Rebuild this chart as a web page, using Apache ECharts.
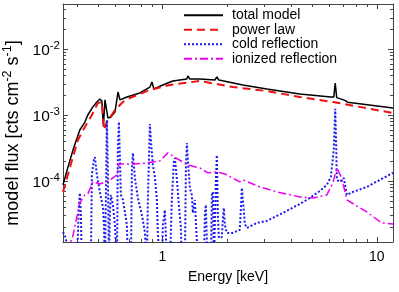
<!DOCTYPE html>
<html><head><meta charset="utf-8">
<script src="https://cdn.jsdelivr.net/npm/echarts@6/dist/echarts.min.js"></script>
<style>html,body{margin:0;padding:0;background:#fff}#c{width:399px;height:292px}</style>
</head><body><div id="c"></div>
<script>
// ---- data (energy in keV, flux in cts cm^-2 s^-1) ----
const totalE = [0.344, 0.363, 0.383, 0.412, 0.435, 0.449, 0.474, 0.495, 0.511, 0.522, 0.531, 0.540, 0.551, 0.557, 0.575, 0.601, 0.621, 0.634, 0.683, 0.785, 0.875, 0.894, 0.913, 1.005, 1.119, 1.30, 1.315, 1.343, 1.495, 1.757, 1.795, 1.834, 2.373, 3.07, 4.375, 6.1, 6.3, 6.4, 6.5, 7.1, 7.3, 11.9];
const totalF = [8.8e-5, 1.65e-4, 2.98e-4, 5.98e-4, 7.9e-4, 1.01e-3, 1.34e-3, 1.59e-3, 1.77e-3, 1.65e-3, 7.1e-4, 1.71e-3, 1.83e-3, 9.1e-4, 9.4e-4, 1.12e-3, 2.25e-3, 1.71e-3, 1.89e-3, 2.18e-3, 2.68e-3, 3.2e-3, 2.5e-3, 2.88e-3, 3.31e-3, 3.55e-3, 3.94e-3, 3.55e-3, 3.55e-3, 3.43e-3, 3.8e-3, 3.43e-3, 2.88e-3, 2.5e-3, 2.1e-3, 1.89e-3, 1.9e-3, 3.08e-3, 1.85e-3, 1.68e-3, 1.58e-3, 1.29e-3];

const powerE = [0.344, 0.371, 0.404, 0.435, 0.469, 0.500, 0.522, 0.534, 0.551, 0.601, 0.654, 0.706, 0.875, 1.084, 1.495, 2.132, 3.07, 4.375, 6.24, 11.9];
const powerF = [6.9e-5, 1.65e-4, 4.23e-4, 6.65e-4, 1.01e-3, 1.53e-3, 1.59e-3, 6.0e-4, 7.9e-4, 1.2e-3, 1.59e-3, 1.83e-3, 2.42e-3, 2.88e-3, 3.31e-3, 2.68e-3, 2.33e-3, 1.89e-3, 1.59e-3, 1.08e-3];

const coldE = [0.344, 0.355, 0.363, 0.399, 0.408, 0.412, 0.417, 0.421, 0.464, 0.469, 0.479, 0.4845, 0.495, 0.511, 0.528, 0.534, 0.5395, 0.545, 0.551, 0.557, 0.563, 0.569, 0.575, 0.588, 0.601, 0.614, 0.620, 0.627, 0.634, 0.6405, 0.6545, 0.6686, 0.6832, 0.6906, 0.7132, 0.7209, 0.7287, 0.7445, 0.7687, 0.8025, 0.8288, 0.8468, 0.8559, 0.8744, 0.8838, 0.903, 0.9226, 0.9427, 0.9528, 0.9734, 0.9947, 1.005, 1.027, 1.038, 1.049, 1.084, 1.107, 1.131, 1.144, 1.169, 1.194, 1.220, 1.233, 1.273, 1.287, 1.301, 1.315, 1.343, 1.372, 1.387, 1.417, 1.433, 1.448, 1.480, 1.561, 1.578, 1.595, 1.612, 1.630, 1.683, 1.701, 1.720, 1.738, 1.776, 1.795, 1.814, 1.834, 1.854, 1.894, 1.914, 1.935, 1.956, 1.998, 2.132, 2.297, 2.348, 2.373, 2.425, 2.477, 2.758, 3.07, 3.646, 4.375, 4.872, 5.424, 5.847, 6.103, 6.3, 6.4, 6.48, 6.51, 6.723, 7.018, 7.1, 7.248, 7.729, 8.982, 10.33, 11.9];
const coldF = [1.70e-5, 1.38e-5, 5e-6, 5e-6, 4.38e-5, 6.65e-5, 3.09e-5, 5e-6, 5e-6, 1.25e-4, 2.10e-4, 2.33e-4, 1.25e-4, 6.88e-5, 4.08e-5, 2.18e-5, 5e-6, 5.21e-5, 8.49e-4, 1.48e-4, 5e-6, 3.09e-5, 6.2e-5, 4.38e-5, 2.18e-5, 5e-6, 2.98e-4, 7.92e-4, 2.10e-4, 6.2e-5, 5.21e-5, 3.43e-5, 2.18e-5, 5e-6, 5e-6, 1.48e-4, 2.68e-4, 1.12e-4, 5.58e-5, 3.09e-5, 1.70e-5, 5e-6, 5.21e-5, 7.38e-4, 4.22e-4, 1.77e-4, 1.16e-4, 5.21e-5, 1.65e-5, 5e-6, 5e-6, 2.18e-5, 3.67e-5, 1.54e-5, 5e-6, 5e-6, 5.21e-5, 1.96e-4, 2.25e-4, 1.05e-4, 4.38e-5, 1.96e-5, 5e-6, 5e-6, 1.48e-4, 3.80e-4, 2.10e-4, 7.92e-5, 6.2e-5, 3.31e-5, 5.21e-5, 2.42e-5, 1.29e-5, 5e-6, 5e-6, 3.09e-5, 4.38e-5, 1.29e-5, 5e-6, 5e-6, 6.2e-5, 6.88e-5, 5e-6, 1.05e-4, 2.50e-4, 3.09e-5, 1.38e-5, 1.34e-5, 1.43e-5, 2.59e-5, 3.94e-5, 2.18e-5, 1.65e-5, 1.65e-5, 1.83e-5, 7.92e-5, 8.2e-5, 2.25e-5, 1.96e-5, 2.33e-5, 2.50e-5, 3.31e-5, 4.53e-5, 5.58e-5, 7.13e-5, 8.79e-5, 1.16e-4, 3.0e-4, 1.25e-3, 2.5e-4, 1.05e-4, 9.76e-5, 1.12e-4, 1.12e-4, 6.2e-5, 6.88e-5, 8.2e-5, 1.05e-4, 1.34e-4];

const ionE = [0.344, 0.379, 0.412, 0.435, 0.449, 0.474, 0.511, 0.557, 0.588, 0.614, 0.627, 0.729, 0.847, 0.973, 1.061, 1.156, 1.315, 1.495, 1.630, 1.795, 1.956, 2.297, 2.373, 2.848, 3.419, 4.375, 5.030, 5.847, 6.236, 6.510, 6.869, 7.248, 8.982, 10.55, 11.9];
const ionF = [9.1e-6, 1.29e-5, 4.7e-5, 6.2e-5, 6.4e-5, 9.8e-5, 9.1e-5, 1.01e-4, 1.12e-4, 1.25e-4, 1.83e-4, 1.83e-4, 1.89e-4, 2.03e-4, 2.69e-4, 2.25e-4, 1.77e-4, 1.59e-4, 1.34e-4, 1.38e-4, 1.29e-4, 9.76e-5, 1.05e-4, 8.2e-5, 6.9e-5, 5.78e-5, 5.58e-5, 6.2e-5, 9.4e-5, 1.59e-4, 1.12e-4, 5.21e-5, 3.43e-5, 2.33e-5, 2.25e-5];

const seriesNames = ['total model', 'power law', 'cold reflection', 'ionized reflection'];
const xRange = [0.344, 11.9];
const yRange = [1.2e-5, 0.0486];
const xMinorTicks = [0.4, 0.5, 0.6, 0.7, 0.8, 0.9, 2, 3, 4, 5, 6, 7, 8, 9];
const yMinorTicks = [2e-5, 3e-5, 4e-5, 5e-5, 6e-5, 7e-5, 8e-5, 9e-5, 2e-4, 3e-4, 4e-4, 5e-4, 6e-4, 7e-4, 8e-4, 9e-4, 2e-3, 3e-3, 4e-3, 5e-3, 6e-3, 7e-3, 8e-3, 9e-3, 2e-2, 3e-2, 4e-2];

// ---- chart ----
const FONT = '"Liberation Sans", Arial, Helvetica, sans-serif';
const FRAME = '#444';
const pairs = (xs, ys) => xs.map((x, i) => [x, ys[i]]);

function xAx(pos, minor, extra) {
  return Object.assign({
    type: 'log', logBase: 10, min: xRange[0], max: xRange[1], position: pos,
    axisLine: { show: !minor, lineStyle: { color: FRAME, width: 1 } },
    axisTick: minor ? { show: true, inside: true, length: 3, customValues: xMinorTicks, lineStyle: { color: FRAME } }
                    : { show: true, inside: true, length: 5, lineStyle: { color: FRAME } },
    axisLabel: { show: false },
    splitLine: { show: false }, minorTick: { show: false }
  }, extra || {});
}
function yAx(pos, minor, extra) {
  return Object.assign({
    type: 'log', logBase: 10, min: yRange[0], max: yRange[1], position: pos,
    axisLine: { show: !minor, lineStyle: { color: FRAME, width: 1 } },
    axisTick: minor ? { show: true, inside: true, length: 3, customValues: yMinorTicks, lineStyle: { color: FRAME } }
                    : { show: true, inside: true, length: 5, lineStyle: { color: FRAME } },
    axisLabel: { show: false },
    splitLine: { show: false }, minorTick: { show: false }
  }, extra || {});
}

const chart = echarts.init(document.getElementById('c'), null, { renderer: 'canvas' });
chart.setOption({
  animation: false,
  backgroundColor: '#fff',
  textStyle: { fontFamily: FONT },
  grid: { left: 63, right: 6, top: 4, bottom: 50, containLabel: false, outerBoundsMode: 'none' },
  legend: {
    orient: 'vertical', left: 183, top: 8, padding: 0,
    itemWidth: 39, itemHeight: 10, itemGap: 0,
    itemStyle: { opacity: 0, color: 'rgba(0,0,0,0)', borderWidth: 0 },
    textStyle: { fontSize: 14, color: '#000', fontFamily: FONT, lineHeight: 14.5, padding: [0, 0, 0, 4] },
    data: seriesNames
  },
  xAxis: [
    xAx('bottom', false, {
      axisLabel: { show: true, showMinLabel: false, showMaxLabel: false, fontSize: 14, color: '#000', margin: 8, fontFamily: FONT,
                   formatter: v => String(Math.round(v)) },
      name: 'Energy [keV]', nameLocation: 'middle', nameGap: 28,
      nameTextStyle: { fontSize: 14, color: '#000', fontFamily: FONT }
    }),
    xAx('bottom', true),
    xAx('top', false),
    xAx('top', true)
  ],
  yAxis: [
    yAx('left', false, {
      axisLabel: { show: true, showMinLabel: false, showMaxLabel: false, margin: 3, fontFamily: FONT,
        formatter: v => '{b|10}{s|' + Math.round(Math.log10(v)) + '}',
        rich: {
          b: { fontSize: 15.5, color: '#000', fontFamily: FONT, verticalAlign: 'bottom' },
          s: { fontSize: 11.5, color: '#000', fontFamily: FONT, verticalAlign: 'bottom', padding: [0, 0, 7, 0] }
        }
      },
      name: '{n|model flux [cts cm}{s|-2}{n| s}{s|-1}{n|]}', nameLocation: 'middle', nameGap: 38,
      nameTextStyle: {
        fontFamily: FONT, color: '#000', padding: [0, 20, 0, 0],
        rich: {
          n: { fontSize: 18, color: '#000', fontFamily: FONT, verticalAlign: 'bottom' },
          s: { fontSize: 12.5, color: '#000', fontFamily: FONT, verticalAlign: 'bottom', padding: [0, 0, 8, 0] }
        }
      }
    }),
    yAx('left', true),
    yAx('right', false),
    yAx('right', true)
  ],
  series: [
    { type: 'line', name: seriesNames[0], data: pairs(totalE, totalF), symbol: 'none', clip: true,
      lineStyle: { color: '#000', width: 1.5 }, itemStyle: { color: '#000' } },
    { type: 'line', name: seriesNames[1], data: pairs(powerE, powerF), symbol: 'none', clip: true,
      lineStyle: { color: '#ee1111', width: 2, type: [8, 5] }, itemStyle: { color: '#ee1111' } },
    { type: 'line', name: seriesNames[2], data: pairs(coldE, coldF), symbol: 'none', clip: true,
      lineStyle: { color: '#1a1aee', width: 2, type: [2, 2] }, itemStyle: { color: '#1a1aee' } },
    { type: 'line', name: seriesNames[3], data: pairs(ionE, ionF), symbol: 'none', clip: true,
      lineStyle: { color: '#ee00ee', width: 1.5, type: [8, 3, 2, 3] }, itemStyle: { color: '#ee00ee' } }
  ]
});
</script></body></html>
